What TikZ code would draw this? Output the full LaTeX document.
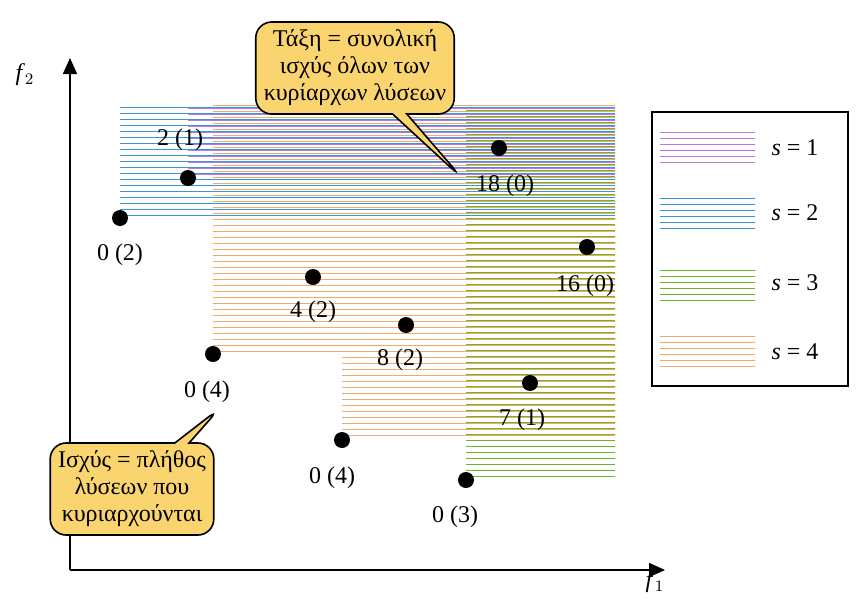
\documentclass[tikz,border=0pt]{standalone}
\usepackage{fontspec}
\setmainfont{Liberation Serif}
\usetikzlibrary{arrows.meta, patterns.meta, shapes.callouts}
\definecolor{sOne}{RGB}{190,120,220}
\definecolor{sTwo}{RGB}{60,150,210}
\definecolor{sThree}{RGB}{110,180,40}
\definecolor{sFour}{RGB}{240,170,110}
\definecolor{noteYellow}{RGB}{250,212,110}

\begin{document}
\begin{tikzpicture}[x=0.5pt, y=-0.5pt,
    font=\fontsize{12}{14}\selectfont,
    pt/.style={circle, fill=black, inner sep=0pt, minimum size=8pt},
    lab/.style={inner sep=1pt},
    area/.style 2 args={pattern={Lines[angle=0, distance=3pt, line width=0.5pt, yshift=#2]}, pattern color=#1, draw=none},
    note/.style={rectangle callout, rounded corners=8pt, draw, thick, fill=noteYellow, align=center, inner sep=4pt, font=\fontsize{12}{13.5}\selectfont},
    arrow/.style={-{Triangle[length=8pt, width=7pt]}, thick}
]
\useasboundingbox (0,0) rectangle (864,601);

% dominated regions
\fill[area={sTwo}{0.75pt}] (120,105) rectangle (615,218);
\fill[area={sOne}{0pt}] (188,105) rectangle (615,178);
\fill[area={sFour}{1.5pt}] (213,105) rectangle (615,354);
\fill[area={sFour}{1.5pt}] (342,105) rectangle (615,440);
\fill[area={sThree}{2.25pt}] (466,105) rectangle (615,480);

% axes
\coordinate (o) at (70,570);
\coordinate (xend) at (665,570);
\coordinate (yend) at (70,58);
\draw[arrow] (o) -- (xend);
\draw[arrow] (o) -- (yend);
\node (fone) at (655,582) {\textit{f}$_1$};
\node (ftwo) at (25,75) {\textit{f}$_2$};

% solutions
\node[pt] (a) at (120,218) {};
\node[pt] (b) at (188,178) {};
\node[pt] (c) at (213,354) {};
\node[pt] (d) at (313,277) {};
\node[pt] (e) at (406,325) {};
\node[pt] (f) at (342,440) {};
\node[pt] (g) at (466,480) {};
\node[pt] (h) at (530,383) {};
\node[pt] (i) at (587,247) {};
\node[pt] (j) at (499,148) {};
\node[lab] (la) at (120,255) {0 (2)};
\node[lab] (lb) at (180,140) {2 (1)};
\node[lab] (lc) at (207,392) {0 (4)};
\node[lab] (ld) at (313,312) {4 (2)};
\node[lab] (le) at (400,360) {8 (2)};
\node[lab] (lf) at (332,478) {0 (4)};
\node[lab] (lg) at (455,517) {0 (3)};
\node[lab] (lh) at (522,420) {7 (1)};
\node[lab] (li) at (585,286) {16 (0)};
\node[lab] (lj) at (505,186) {18 (0)};

% legend
\node[draw, thick, minimum width=98pt, minimum height=137pt] (legend) at (750,249) {};
\foreach \c/\y/\n in {sOne/148/1, sTwo/213/2, sThree/283/3, sFour/352/4} {
  \fill[area={\c}{0pt}] (660,\y-18) rectangle (755,\y+18);
  \node (leg\n) at (795,\y) {\textit{s} = \n};
}

% callouts
\node[note, callout absolute pointer={(462,178)}] (rank) at (355,68) {Τάξη = συνολική\\ισχύς όλων των\\κυρίαρχων λύσεων};
\node[note, callout absolute pointer={(220,408)}] (strength) at (132,489) {Ισχύς = πλήθος\\λύσεων που\\κυριαρχούνται};
\end{tikzpicture}
\end{document}
